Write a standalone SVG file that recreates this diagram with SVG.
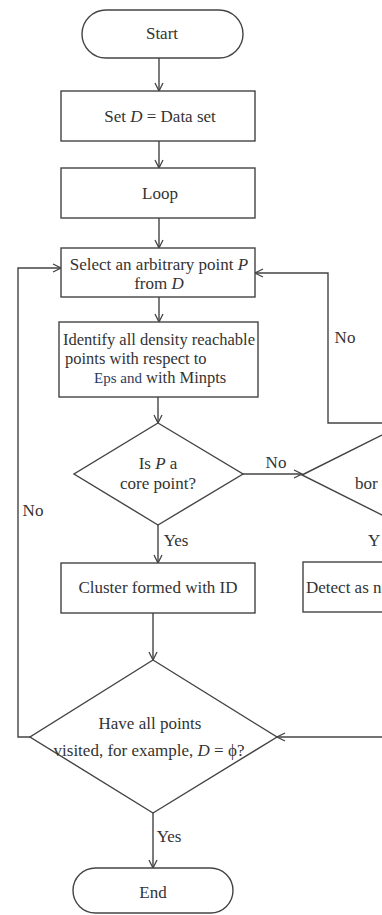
<svg xmlns="http://www.w3.org/2000/svg" width="382" height="915" viewBox="0 0 382 915">
<defs>
<marker id="arr" viewBox="0 0 10 10" refX="9" refY="5" markerWidth="10" markerHeight="10" markerUnits="userSpaceOnUse" orient="auto">
<path d="M1,1 L9,5 L1,9" fill="none" stroke="#444" stroke-width="1.3"/>
</marker>
<style>
.s{fill:#fff;stroke:#444;stroke-width:1.4}
.c{fill:none;stroke:#444;stroke-width:1.4}
text{font-family:"Liberation Serif","Times New Roman",serif;font-size:17px;fill:#333}
.m{text-anchor:middle}
.i{font-style:italic}
</style>
</defs>
<rect width="382" height="915" fill="#fff"/>
<g id="connectors">
<line class="c" x1="159" y1="58" x2="159" y2="91" marker-end="url(#arr)"/>
<line class="c" x1="159" y1="141" x2="159" y2="168" marker-end="url(#arr)"/>
<line class="c" x1="159" y1="218" x2="159" y2="248" marker-end="url(#arr)"/>
<line class="c" x1="159" y1="297" x2="159" y2="322" marker-end="url(#arr)"/>
<line class="c" x1="158" y1="397" x2="158" y2="423" marker-end="url(#arr)"/>
<line class="c" x1="243" y1="474" x2="302" y2="474" marker-end="url(#arr)"/>
<line class="c" x1="158" y1="525" x2="158" y2="563" marker-end="url(#arr)"/>
<line class="c" x1="153" y1="613" x2="153" y2="660" marker-end="url(#arr)"/>
<line class="c" x1="153" y1="813" x2="153" y2="868" marker-end="url(#arr)"/>
<polyline class="c" points="30,737 18,737 18,268 61,268" marker-end="url(#arr)"/>
<polyline class="c" points="382,423 328,423 328,273 255,273" marker-end="url(#arr)"/>
<line class="c" x1="382" y1="737" x2="277" y2="737" marker-end="url(#arr)"/>
<text x="276" y="468" class="m">No</text>
<text x="176" y="546" class="m">Yes</text>
<text x="33" y="516" class="m">No</text>
<text x="345" y="343" class="m">No</text>
<text x="169" y="842" class="m">Yes</text>
<text x="368" y="546">Y</text>
</g>
<g id="start">
<rect class="s" x="82" y="10" width="161" height="48" rx="24" ry="24"/>
<text x="162" y="39" class="m">Start</text>
</g>
<g id="setD">
<rect class="s" x="61" y="91" width="194" height="50"/>
<text x="160" y="122" class="m">Set <tspan class="i">D</tspan> = Data set</text>
</g>
<g id="loop">
<rect class="s" x="61" y="168" width="194" height="50"/>
<text x="160" y="199" class="m">Loop</text>
</g>
<g id="select">
<rect class="s" x="61" y="248" width="194" height="49"/>
<text x="159" y="270" class="m">Select an arbitrary point <tspan class="i">P</tspan></text>
<text x="159" y="289" class="m">from <tspan class="i">D</tspan></text>
</g>
<g id="identify">
<rect class="s" x="59" y="322" width="199" height="75"/>
<text x="159" y="345" class="m" style="font-size:16.5px">Identify all density reachable</text>
<text x="65" y="364" style="font-size:16.5px">points with respect to</text>
<text x="94" y="383" style="font-size:16.5px"><tspan fill="#2c3a5e" style="font-size:15px">Eps and</tspan>  with Minpts</text>
</g>
<g id="core">
<polygon class="s" points="158,423 243,474 158,525 74,474"/>
<text x="158" y="469" class="m">Is <tspan class="i">P</tspan> a</text>
<text x="158" y="489" class="m">core point?</text>
</g>
<g id="border">
<polygon class="s" points="302,475 402,425 502,475 402,525"/>
<text x="355" y="489">bor</text>
</g>
<g id="cluster">
<rect class="s" x="61" y="563" width="194" height="50"/>
<text x="158" y="593" class="m">Cluster formed with ID</text>
</g>
<g id="noise">
<rect class="s" x="303" y="562" width="200" height="50"/>
<text x="306" y="593">Detect as n</text>
</g>
<g id="visited">
<polygon class="s" points="153,660 277,737 153,813 30,737"/>
<text x="150" y="729" class="m">Have all points</text>
<text x="149" y="756" class="m">visited, for example, <tspan class="i">D</tspan> = ϕ?</text>
</g>
<g id="end">
<rect class="s" x="73" y="868" width="160" height="45" rx="22.5" ry="22.5"/>
<text x="153" y="898" class="m">End</text>
</g>
</svg>
